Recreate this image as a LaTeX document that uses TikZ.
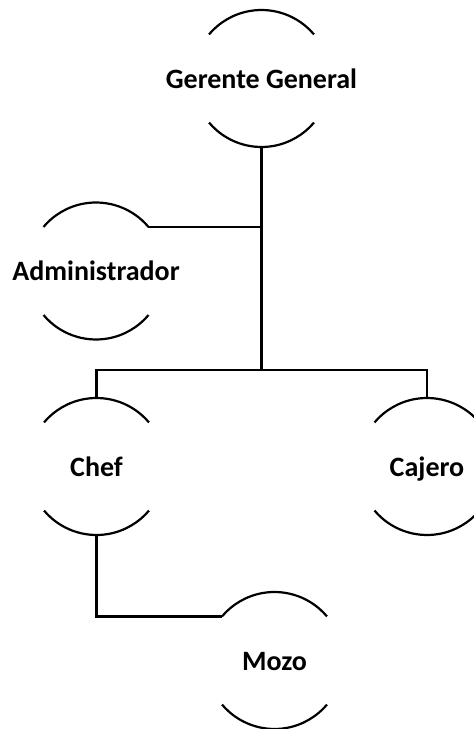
\documentclass[tikz,border=0pt]{standalone}
\usepackage{fontspec}
\setmainfont{Carlito}
\begin{document}
\begin{tikzpicture}[x=1pt,y=1pt,
  unit/.style={circle,minimum size=137pt,inner sep=0pt,outer sep=0pt,
    label={[font=\fontsize{28}{32}\selectfont\bfseries,inner sep=0pt,yshift=-2.5pt]center:\vphantom{Cj}#1}},
  edge/.style={line width=2.2pt},
  arcs/.style={line width=2.2pt}]
\useasboundingbox (0,0) rectangle (474,729);
\clip (0,0) rectangle (474,729);
\node[unit={Gerente General}] (g) at (261.5,650.5) {};
\node[unit={Administrador}] (admin) at (96,458) {};
\node[unit={Chef}] (chef) at (96.5,262.5) {};
\node[unit={Cajero}] (cajero) at (427,262.5) {};
\node[unit={Mozo}] (mozo) at (274.5,68.5) {};
\foreach \n in {g,admin,chef,cajero,mozo}{
  \draw[arcs] (\n.40) arc[start angle=40,end angle=140,radius=68.5pt];
  \draw[arcs] (\n.220) arc[start angle=220,end angle=320,radius=68.5pt];
}
\coordinate (bus) at (261.5,359);
\draw[edge] (g.south) -- (bus);
\draw[edge] (admin.40) -- (admin.40 -| bus);
\draw[edge] (chef.north) |- (bus) -| (cajero.north);
\draw[edge] (chef.south) |- (mozo.140);
\end{tikzpicture}
\end{document}
